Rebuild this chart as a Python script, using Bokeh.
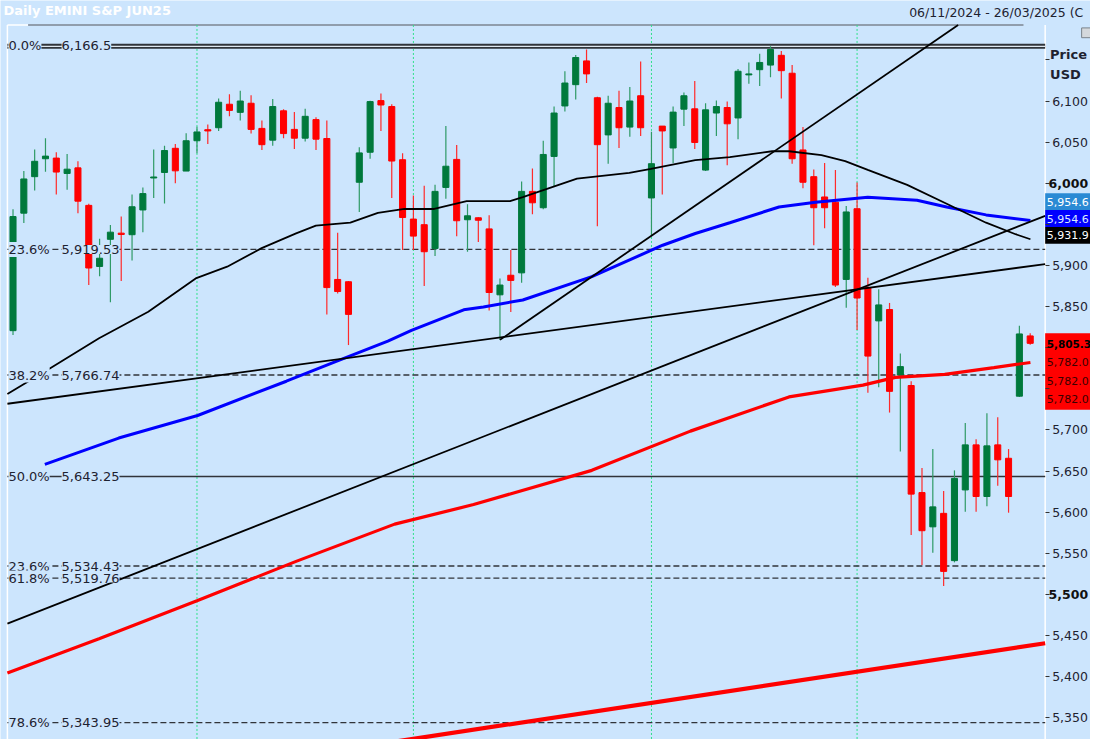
import numpy as np
from bokeh.plotting import figure
from bokeh.models import Range1d, Label, FixedTicker, NumeralTickFormatter, ColumnDataSource
from bokeh.embed import file_html
from bokeh.resources import INLINE

# ---------------- data ----------------
opens = [5820.7, 5963.6, 6008.0, 6029.8, 6030.6, 6011.9, 6018.7, 5973.1, 5898.8, 5931.8,
         5939.3, 5937.4, 5967.5, 6006.4, 6013.1, 6042.5, 6014.8, 6051.7, 6065.1, 6067.5,
         6096.1, 6086.2, 6097.3, 6066.7, 6052.4, 6088.1, 6065.5, 6054.8, 6077.4, 6054.4,
         5883.0, 5880.2, 6001.2, 6037.7, 6100.5, 6093.3, 6028.6, 5956.4, 5949.6, 5920.7,
         5994.9, 6029.0, 5955.6, 5958.0, 5944.5, 5864.3, 5888.1, 5891.0, 5990.1, 5970.2,
         6032.6, 6094.0, 6119.9, 6148.8, 6104.0, 6058.8, 6092.1, 6068.3, 6106.4, 5982.1,
         6069.5, 6042.9, 6090.1, 6090.5, 6016.0, 6085.4, 6092.1, 6079.4, 6131.8, 6138.1,
         6143.7, 6155.6, 6133.8, 6040.5, 6008.0, 5983.3, 5977.0, 5883.0, 5969.0, 5873.1,
         5832.6, 5846.4, 5766.7, 5754.0, 5623.8, 5582.1, 5598.5, 5541.0, 5627.0, 5681.8,
         5619.0, 5681.8, 5665.5, 5741.0, 5814.3]
highs = [5968.3, 6014.8, 6041.0, 6054.8, 6037.7, 6035.7, 6026.7, 5975.0, 5932.6, 5949.3,
         5959.5, 5986.2, 5994.9, 6041.0, 6045.7, 6047.6, 6060.7, 6068.7, 6071.4, 6103.2,
         6108.3, 6112.4, 6107.1, 6076.2, 6102.4, 6090.1, 6086.5, 6090.5, 6080.2, 6076.2,
         5939.8, 5881.0, 6043.7, 6100.4, 6109.2, 6096.1, 6036.5, 5985.0, 5996.9, 5998.1,
         6069.5, 6046.4, 5974.3, 5958.5, 5961.2, 5884.2, 5918.7, 6002.0, 6017.9, 6051.7,
         6093.3, 6136.2, 6156.0, 6162.7, 6105.2, 6106.4, 6112.4, 6117.1, 6148.1, 6062.7,
         6069.5, 6093.3, 6110.4, 6124.3, 6097.3, 6100.5, 6099.3, 6138.9, 6146.9, 6157.6,
         6166.5, 6160.7, 6143.7, 6068.3, 6016.7, 6024.6, 6016.0, 5972.3, 6000.8, 5885.0,
         5871.1, 5854.4, 5792.9, 5759.2, 5653.6, 5676.7, 5625.8, 5650.8, 5708.3, 5688.6,
         5720.2, 5715.5, 5676.7, 5826.7, 5817.5]
lows = [5815.5, 5951.7, 5991.3, 6013.9, 5986.2, 5992.1, 5963.6, 5876.2, 5886.9, 5855.2,
        5881.0, 5906.0, 5940.5, 5982.1, 5975.5, 6000.0, 6014.8, 6036.5, 6047.6, 6063.6,
        6081.4, 6076.2, 6060.4, 6040.5, 6045.7, 6054.8, 6041.7, 6050.8, 6040.5, 5840.5,
        5866.0, 5803.2, 5965.1, 6029.8, 6063.6, 5982.1, 5918.7, 5918.7, 5875.0, 5911.5,
        5981.0, 5935.4, 5916.7, 5928.6, 5845.2, 5809.5, 5843.3, 5879.0, 5962.4, 5968.3,
        5996.1, 6087.4, 6102.0, 6121.9, 5947.6, 6023.8, 6042.9, 6056.4, 6057.6, 5936.5,
        5986.2, 6024.6, 6069.5, 6041.7, 6015.0, 6057.6, 6021.9, 6053.6, 6121.1, 6118.3,
        6129.0, 6103.2, 6023.8, 5994.0, 5924.6, 5945.2, 5873.8, 5848.5, 5821.4, 5745.2,
        5752.0, 5721.1, 5673.8, 5572.3, 5535.7, 5550.5, 5510.0, 5538.9, 5600.5, 5600.5,
        5607.1, 5632.1, 5599.3, 5740.1, 5803.6]
closes = [5959.5, 6005.2, 6026.7, 6033.0, 6013.6, 6017.1, 5978.2, 5896.9, 5908.8, 5940.5,
          5937.7, 5971.4, 5987.4, 6007.6, 6039.8, 6015.1, 6051.7, 6062.4, 6063.6, 6098.5,
          6088.6, 6100.0, 6065.5, 6046.9, 6093.3, 6060.4, 6054.8, 6081.4, 6053.6, 5873.1,
          5868.3, 5840.5, 6036.9, 6099.3, 6095.2, 6027.0, 5958.3, 5935.7, 5916.7, 5990.1,
          6020.7, 5954.4, 5960.4, 5955.0, 5867.1, 5876.2, 5881.8, 5990.1, 5976.2, 6035.0,
          6085.4, 6121.9, 6152.9, 6133.0, 6046.9, 6097.3, 6067.5, 6100.0, 6067.5, 6023.8,
          6063.6, 6086.5, 6106.4, 6049.6, 6089.3, 6093.3, 6072.3, 6136.2, 6133.0, 6146.9,
          6162.7, 6136.9, 6029.8, 6001.2, 5970.2, 5970.2, 5876.2, 5965.1, 5860.4, 5789.8,
          5852.0, 5746.9, 5777.0, 5621.9, 5577.4, 5606.4, 5527.9, 5641.0, 5681.8, 5619.0,
          5680.6, 5663.6, 5619.0, 5816.7, 5805.3]

month_start_bars = [17, 37, 59, 78]

# moving averages (bar index, price)
ma_black_x = [-0.52, 3.40, 7.95, 12.50, 16.88, 19.79, 22.98, 26.16, 27.99, 31.17, 33.72, 36.18,
              38.92, 41.92, 45.93, 47.11, 52.12, 56.95, 58.95, 63.05, 66.24, 70.16, 71.71,
              74.71, 76.90, 78.99, 82.63, 86.28, 89.92, 92.65, 94.02]
ma_black_y = [5743.7, 5774.6, 5811.5, 5843.7, 5884.2, 5898.5, 5921.1, 5939.0, 5948.5, 5952.0,
              5963.9, 5968.7, 5968.7, 5978.2, 5978.2, 5983.0, 6005.6, 6012.7, 6017.5, 6028.2,
              6031.8, 6038.9, 6038.9, 6034.2, 6027.0, 6016.3, 5998.0, 5975.0, 5952.0, 5938.0,
              5931.9]
ma_blue_x = [2.94, 9.77, 17.06, 25.26, 29.81, 34.64, 36.82, 41.65, 43.47, 47.11, 53.49, 60.04,
             63.05, 66.24, 70.79, 74.16, 78.99, 83.54, 86.28, 89.92, 94.02]
ma_blue_y = [5658.0, 5690.1, 5717.5, 5759.2, 5783.0, 5808.0, 5821.1, 5846.1, 5849.6, 5858.0,
             5886.5, 5924.6, 5938.9, 5952.0, 5971.1, 5977.0, 5983.0, 5979.4, 5971.1, 5961.5,
             5954.6]
ma_red_x = [-0.52, 7.95, 17.06, 26.16, 35.27, 42.56, 53.49, 62.60, 71.71, 78.54, 81.54, 86.10,
            90.65, 94.02]
ma_red_y = [5404.4, 5446.1, 5492.5, 5540.1, 5585.4, 5609.2, 5650.8, 5698.5, 5740.1, 5754.4,
            5763.9, 5767.5, 5775.8, 5782.0]

# trend lines: two anchor points each (bar index, price)
trend_a_x, trend_a_y = [-0.52, 95.38], [5464.3, 5960.4]
trend_b_x, trend_b_y = [-0.52, 95.38], [5731.8, 5901.7]
trend_c_x, trend_c_y = [45.0, 87.34], [5809.5, 6192.5]
trend_r_x, trend_r_y = [36.6, 95.4], [5323.5, 5440.5]

fib_pct = ["0.0%", "23.6%", "38.2%", "50.0%", "23.6%", "61.8%", "78.6%"]
fib_val = [6166.5, 5919.53, 5766.74, 5643.25, 5534.43, 5519.76, 5343.95]
fib_txt = ["6,166.5", "5,919.53", "5,766.74", "5,643.25", "5,534.43", "5,519.76", "5,343.95"]
fib_kind = ["double", "dash", "dash", "solid", "dash", "dash", "dash"]

axis_ticks = list(range(5350, 6151, 50))
bold_ticks = [6000, 5500]
hidden_ticks = [6150, 5950, 5800, 5750]

last_tags = ["5,954.6", "5,954.6", "5,931.9"]
red_tags = ["5,805.3", "5,782.0", "5,782.0", "5,782.0"]

# ---------------- layout helpers (reference pixel -> data) ----------------
W, H = 1090, 739
def ix(xpx):
    return (xpx - 12.7) / 10.98
def py(ypx):
    return 5500 + (606.7 - ypx) / 0.84

XL, XR, YT = ix(7), ix(1060), py(25)

BG = "#cce5fd"
GREEN, GREEN_W = "#00793c", "#2f9a66"
RED, RED_W = "#ff0000", "#ff2a2a"
TXT = "#1e2230"
LINE = "#30343a"
FONT = "DejaVu Sans"

p = figure(width=W, height=H, output_backend="svg", toolbar_location=None,
           x_axis_location=None, y_axis_location="right",
           x_range=Range1d(ix(0), ix(1106)), y_range=Range1d(py(755), py(0)),
           min_border=0)
p.background_fill_color = BG
p.border_fill_color = BG
p.outline_line_color = None
p.grid.visible = False

ax = p.yaxis[0]
ax.fixed_location = XR
ax.ticker = FixedTicker(ticks=axis_ticks)
ax.formatter = NumeralTickFormatter(format="0,0")
ax.major_label_overrides = {t: "" for t in bold_ticks + hidden_ticks}
ax.major_label_text_font = FONT
ax.major_label_text_font_size = "12.5px"
ax.major_label_text_color = TXT
ax.major_label_standoff = 3
ax.major_tick_in = 0
ax.major_tick_out = 4
ax.major_tick_line_color = "#333333"
ax.minor_tick_line_color = None
ax.axis_line_color = None

def seg(x0, y0, x1, y1, **kw):
    p.segment(x0=[x0], y0=[y0], x1=[x1], y1=[y1], **kw)

# frame edges: white left and right rules, gray top rule
seg(XL, YT, XL, py(760), line_color="white", line_width=1.5)
seg(XR, YT, XR, py(760), line_color="white", line_width=1.5)
seg(XL, YT, ix(28), YT, line_color="white", line_width=1.5)
seg(ix(28), YT, ix(1038), YT, line_color="#7d8590", line_width=1.5)

# small window icon at the top right
p.quad(left=[ix(1097)], right=[ix(1108)], top=[py(28)], bottom=[py(38)],
       fill_color="#d4d8dc", line_color="#7a828a", line_width=1)

# month separators
for m in month_start_bars:
    seg(m, YT, m, py(760), line_color="#2fe08a", line_dash="2 2", line_width=1)

# fibonacci lines
for v, k in zip(fib_val, fib_kind):
    if k == "double":
        seg(XL, v, XR, v, line_color=LINE, line_width=5)
        seg(XL, v, XR, v, line_color="#dfe8f0", line_width=1.2)
    elif k == "solid":
        seg(XL, v, XR, v, line_color=LINE, line_width=1.4)
    else:
        seg(XL, v, XR, v, line_color=LINE, line_width=1.4, line_dash="6 3")

# candles
o, h, l, c = map(np.array, (opens, highs, lows, closes))
x = np.arange(len(o))
up = c >= o
src = ColumnDataSource(dict(x=x, h=h, l=l, top=np.maximum(o, c), bot=np.minimum(o, c),
                            bc=np.where(up, GREEN, RED), wc=np.where(up, GREEN_W, RED_W)))
p.segment(x0="x", y0="l", x1="x", y1="h", line_color="wc", line_width=1.2, source=src)
p.vbar(x="x", width=0.56, top="top", bottom="bot", fill_color="bc", line_color="bc",
       line_width=1, source=src)

# moving averages
p.line(ma_red_x, ma_red_y, line_color="#ff0000", line_width=3.2)
p.line(ma_blue_x, ma_blue_y, line_color="#0000ff", line_width=3)
p.line(ma_black_x, ma_black_y, line_color="#000000", line_width=1.8)

# trend lines through their two anchors, clipped to the chart area
def through(xs, ys, x0, x1):
    s = (ys[1] - ys[0]) / (xs[1] - xs[0])
    return [x0, x1], [ys[0] + s * (x0 - xs[0]), ys[0] + s * (x1 - xs[0])]
for (xs, ys) in [(trend_a_x, trend_a_y), (trend_b_x, trend_b_y)]:
    ex, ey = through(xs, ys, XL, XR)
    p.line(ex, ey, line_color="black", line_width=1.8)
sc = (trend_c_y[1] - trend_c_y[0]) / (trend_c_x[1] - trend_c_x[0])
c_end = trend_c_x[0] + (YT - trend_c_y[0]) / sc
cx, cy = through(trend_c_x, trend_c_y, trend_c_x[0], c_end)
p.line(cx, cy, line_color="black", line_width=1.8)
rx, ry = through(trend_r_x, trend_r_y, trend_r_x[0] - 2, XR)
p.line(rx, ry, line_color="#ff0000", line_width=4.2)

def lab(xv, yv, text, color=TXT, bold=False, bg=None, pad=0, size="13px"):
    p.add_layout(Label(x=xv, y=yv, text=text, text_font=FONT, text_font_size=size,
                       text_color=color, text_font_style="bold" if bold else "normal",
                       text_align="left", text_baseline="middle",
                       background_fill_color=bg, background_fill_alpha=1.0 if bg else 0.0,
                       padding=pad))

# fib labels
for pct, v, t in zip(fib_pct, fib_val, fib_txt):
    yv = v + (1.5 if pct == "0.0%" else 0)
    lab(ix(8), yv, pct, bg=BG)
    lab(ix(62), yv, t, bg=BG)

# header texts
lab(ix(3), py(10.5), "Daily EMINI S&P JUN25", color="white", bold=True)
lab(ix(922), py(12), "06/11/2024 - 26/03/2025 (C", color=TXT, size="12.5px")
lab(ix(1065), py(55), "Price", color=TXT, bold=True)
lab(ix(1065), py(76), "USD", color=TXT, bold=True)

# bold round-number axis labels
for t in bold_ticks:
    lab(ix(1063.5), t, f"{t:,}", color="#111111", bold=True, size="12.5px")

# last-value tags: coloured boxes in the price-axis strip, then their texts
tag_boxes = [(197, 214, "#2a8ad4"), (214, 231.5, "#0000ff"), (231.5, 248.5, "#000000"),
             (340, 418, "#ff0000")]
for y0, y1, col in tag_boxes:
    p.quad(left=[ix(1060)], right=[ix(1110)], top=[py(y0)], bottom=[py(y1)],
           fill_color=col, line_color=None)
tag_fg = ["white", "#dde9ff", "white"]
for t, yc, f in zip(last_tags, [205.5, 222.8, 240], tag_fg):
    lab(ix(1061.5), py(yc), t, color=f, size="11px")
for k, (t, yc) in enumerate(zip(red_tags, [350.5, 369.5, 388.5, 407.5])):
    lab(ix(1061.5), py(yc), t, color="#000000" if k == 0 else "#3a0000",
        bold=(k == 0), size="10.5px" if k == 0 else "11px")

open("out.html", "w").write(file_html(p, INLINE))
